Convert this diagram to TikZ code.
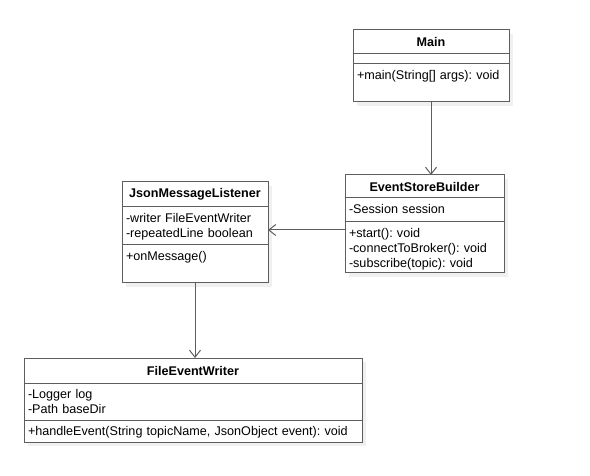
\documentclass[tikz,border=0pt]{standalone}
\usepackage{fontspec}
\setmainfont{Liberation Sans}
\usetikzlibrary{positioning, arrows.meta, shadows}
\definecolor{edge}{HTML}{5E5E5E}
\frenchspacing

\begin{document}
\begin{tikzpicture}[x=1pt, y=1pt,
	every node/.style={font=\fontsize{12.6}{15}\selectfont},
	box/.style={draw=edge, line width=1pt, fill=white, outer sep=0pt,
		general shadow={fill=black!6, shadow xshift=4pt, shadow yshift=-4pt}},
	head/.style={box, font=\fontsize{12.6}{15}\selectfont\bfseries, minimum width=#1, minimum height=24pt, inner sep=0pt, anchor=north},
	part/.style 2 args={box, anchor=north, inner xsep=4pt, inner ysep=0pt, text width=#1, align=left, text height=15.5pt, text depth=#2},
	assoc/.style={draw=edge, line width=1pt, -{Straight Barb[length=7pt, width=11pt]}}]
	\useasboundingbox (0,0) rectangle (590,-476);
	\node[head=156pt] (mainT) at (431,-30) {Main};
	\node[part={148pt}{0pt}, text height=10pt, below=0pt of mainT] (mainA) {};
	\node[part={148pt}{22.5pt}, below=0pt of mainA] (mainM) {+main(String[] args): void};
	\node[head=159pt, minimum height=23pt] (esbT) at (424.5,-175) {EventStoreBuilder};
	\node[part={151pt}{8.5pt}, below=0pt of esbT] (esbA) {-Session session};
	\node[part={151pt}{35.5pt}, below=0pt of esbA] (esbM) {+start(): void\\-connectToBroker(): void\\-subscribe(topic): void};
	\node[head=146pt, minimum height=25pt] (jmlT) at (195,-182) {JsonMessageListener};
	\node[part={138pt}{22.5pt}, below=0pt of jmlT] (jmlA) {-writer FileEventWriter\\-repeatedLine boolean};
	\node[part={138pt}{22.5pt}, below=0pt of jmlA] (jmlM) {+onMessage()};
	\node[head=338pt, minimum height=25pt] (fewT) at (193,-358) {FileEventWriter};
	\node[part={330pt}{21.5pt}, below=0pt of fewT] (fewA) {-Logger log\\-Path baseDir};
	\node[part={330pt}{6.5pt}, below=0pt of fewA] (fewM) {+handleEvent(String topicName, JsonObject event): void};
	\draw[assoc] (mainM.south) -- (mainM.south |- esbT.north);
	\coordinate (ln) at ([yshift=-8pt]esbM.north west);
	\draw[assoc] (ln) -- (ln -| jmlA.east);
	\draw[assoc] (jmlM.south) -- (jmlM.south |- fewT.north);
\end{tikzpicture}
\end{document}
